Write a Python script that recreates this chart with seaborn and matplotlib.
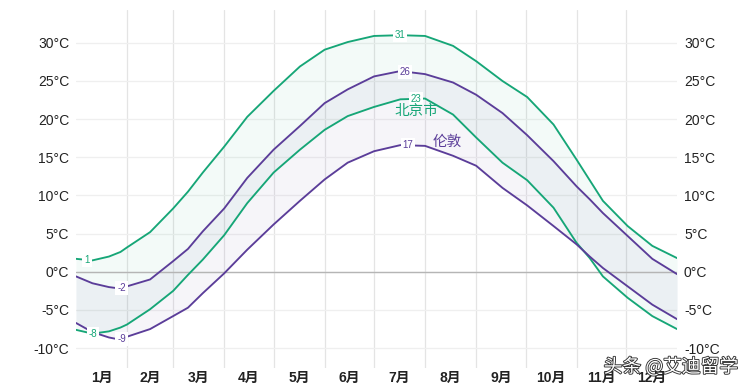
import numpy as np
import pandas as pd
import matplotlib
matplotlib.use("Agg")
import matplotlib.pyplot as plt
import matplotlib.patheffects as pe
import seaborn as sns

# ---- data ----
days = [0, 10, 20, 27, 31, 45, 59, 68, 77, 90, 104, 120, 136, 151, 165, 181,
        197, 212, 229, 243, 259, 274, 290, 304, 312, 320, 335, 350, 365]
beijing_high = [1.7, 1.5, 2.0, 2.6, 3.2, 5.2, 8.3, 10.5, 13.0, 16.4, 20.3, 23.7, 26.9, 29.1, 30.1, 30.9,
                31.0, 30.9, 29.6, 27.6, 25.0, 22.9, 19.3, 14.7, 12.0, 9.3, 6.0, 3.4, 1.8]
beijing_low = [-7.6, -8.1, -7.8, -7.3, -6.9, -4.9, -2.5, -0.4, 1.6, 4.8, 9.0, 13.0, 16.0, 18.6, 20.4, 21.6,
               22.6, 22.7, 20.6, 17.6, 14.3, 12.0, 8.4, 3.8, 1.8, -0.6, -3.4, -5.8, -7.5]
london_high = [-0.6, -1.5, -2.0, -2.2, -1.9, -1.0, 1.4, 3.0, 5.3, 8.3, 12.3, 16.0, 19.1, 22.1, 23.9, 25.6,
               26.3, 25.9, 24.8, 23.2, 20.8, 17.9, 14.5, 11.2, 9.5, 7.7, 4.7, 1.7, -0.3]
london_low = [-6.7, -7.9, -8.6, -8.9, -8.5, -7.5, -5.8, -4.7, -2.8, -0.2, 2.9, 6.2, 9.3, 12.1, 14.3, 15.8,
              16.6, 16.5, 15.2, 13.9, 11.0, 8.7, 6.0, 3.6, 2.0, 0.5, -1.9, -4.3, -6.2]

month_starts = [0, 31, 59, 90, 120, 151, 181, 212, 243, 273, 304, 334, 365]
month_labels = ["1月", "2月", "3月", "4月", "5月", "6月", "7月", "8月", "9月", "10月", "11月", "12月"]
y_ticks = [-10, -5, 0, 5, 10, 15, 20, 25, 30]
y_labels = [f"{v}°C" for v in y_ticks]

# value labels on the lines: (series, day, text)
value_labels = [("bj_high", 6.7, "1"), ("bj_low", 10.3, "-8"), ("ld_high", 27.7, "-2"),
                ("ld_low", 27.7, "-9"), ("bj_high", 196.8, "31"), ("ld_high", 199.8, "26"),
                ("bj_low", 206.5, "23"), ("ld_low", 201.6, "17")]
city_names = {"beijing": "北京市", "london": "伦敦"}

GREEN = "#16a677"
PURPLE = "#5b3d99"

sns.set_theme(style="white")
plt.rcParams["font.family"] = ["Liberation Sans", "Noto Sans CJK SC", "DejaVu Sans"]

df = pd.DataFrame({"day": days, "bj_high": beijing_high, "bj_low": beijing_low,
                   "ld_high": london_high, "ld_low": london_low})

fig = plt.figure(figsize=(7.53, 3.87), dpi=100)
ax = fig.add_axes([76 / 753, 19 / 387, 601 / 753, 358 / 387])

# bands
ax.fill_between(df["day"], df["bj_low"], df["bj_high"], color=GREEN, alpha=0.05, lw=0, zorder=1)
ax.fill_between(df["day"], df["ld_low"], df["ld_high"], color=PURPLE, alpha=0.05, lw=0, zorder=1)

colors = {"bj_high": GREEN, "bj_low": GREEN, "ld_high": PURPLE, "ld_low": PURPLE}
for col in ["bj_high", "bj_low", "ld_high", "ld_low"]:
    sns.lineplot(data=df, x="day", y=col, ax=ax, color=colors[col], lw=1.35, zorder=3)

# zero line
ax.axhline(0, color="#b5b5b5", lw=1.0, zorder=2)

for series, d, txt in value_labels:
    yv = np.interp(d, df["day"], df[series])
    ax.text(d, yv, txt, color=colors[series], fontsize=7, ha="center", va="center", zorder=5,
            bbox=dict(boxstyle="square,pad=0.2", fc="white", ec="none"))

ax.text(206.5, 21.1, city_names["beijing"], color=GREEN, fontsize=10.5, ha="center", va="center",
        family=["Noto Sans CJK SC"], zorder=5)
ax.text(225.3, 17.0, city_names["london"], color=PURPLE, fontsize=10.5, ha="center", va="center",
        family=["Noto Sans CJK SC"], zorder=5)

ax.set_xlim(0, 365)
ax.set_ylim(-12.6, 34.3)
ax.set_xlabel("")
ax.set_ylabel("")

# x ticks: minor at month boundaries (grid), major at mid-month (labels)
mids = [(month_starts[i] + month_starts[i + 1]) / 2 for i in range(12)]
ax.set_xticks(mids)
ax.set_xticklabels(month_labels, fontsize=10, fontweight="bold", color="#222222")
ax.set_xticks(month_starts[1:-1], minor=True)
ax.tick_params(axis="x", which="both", length=0, pad=2)
ax.grid(False)
ax.grid(True, axis="x", which="minor", color="#e4e4e4", lw=0.9)

ax.set_yticks(y_ticks)
ax.set_yticklabels(y_labels, fontsize=10, color="#222222")
ax.tick_params(axis="y", length=0, pad=5, labelright=True, labelleft=True)
ax.grid(True, axis="y", which="major", color="#efefef", lw=0.9)
ax.set_axisbelow(True)

for s in ax.spines.values():
    s.set_visible(False)

# watermark
fig.text(0.891, 0.052, "头条 @艾迪留学", fontsize=13.5, color="white", ha="center", va="center",
         family=["Noto Sans CJK SC"],
         path_effects=[pe.withStroke(linewidth=1.3, foreground="#333333")], zorder=10)

fig.savefig("out.png", dpi=100)
